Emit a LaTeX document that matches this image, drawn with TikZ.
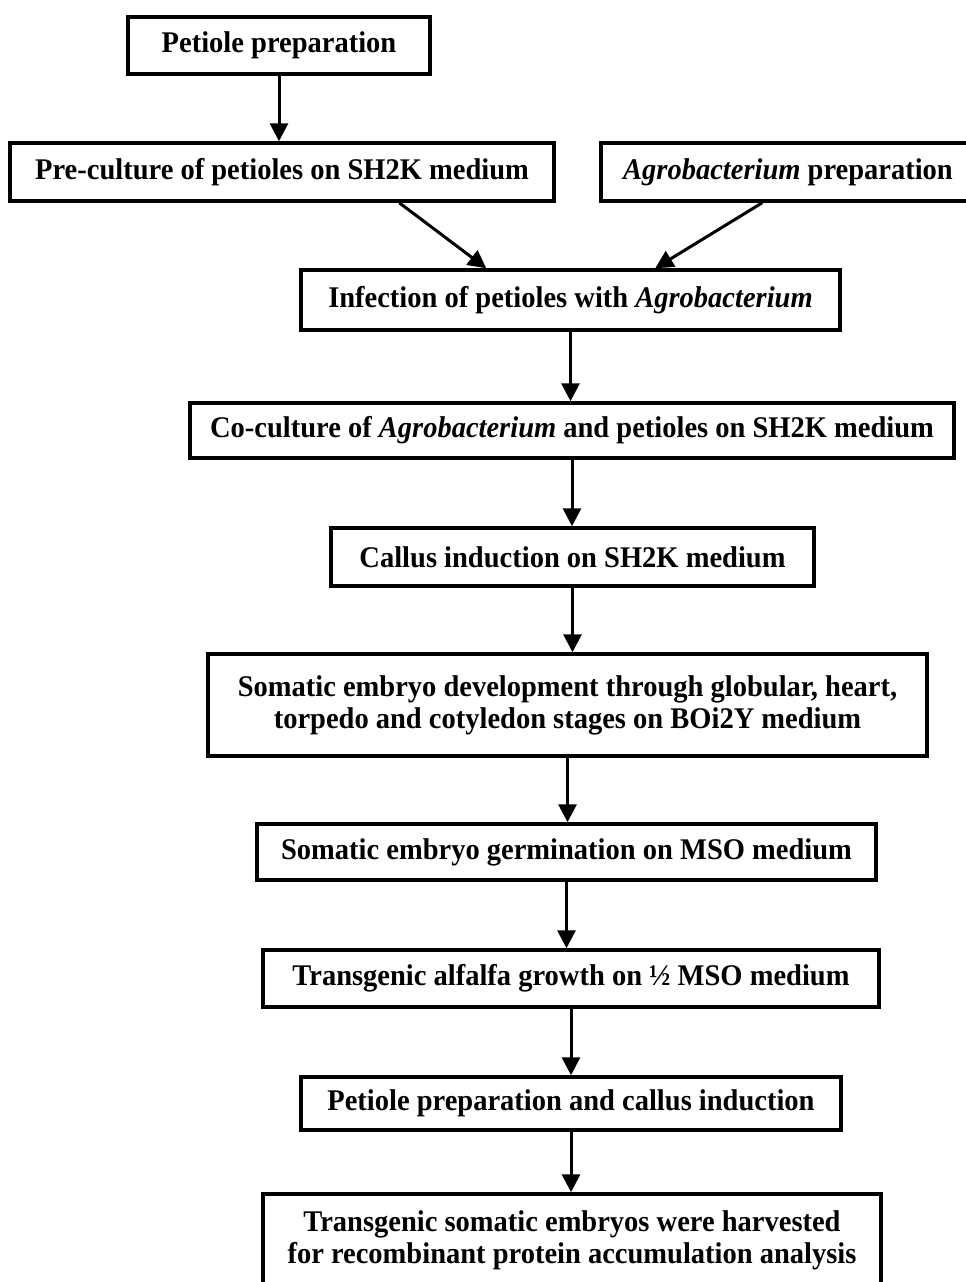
\documentclass[tikz,border=0pt]{standalone}
\usepackage{fontspec}
\setmainfont[FakeStretch=0.95]{Liberation Serif}
\usetikzlibrary{arrows.meta}
\begin{document}
\begin{tikzpicture}[x=1pt,y=-1pt,
  box/.style={draw, line width=3.5pt, rectangle, inner sep=0pt,
    font=\fontsize{30}{32}\selectfont\bfseries, align=center},
  txt/.style={inner sep=0pt, font=\fontsize{30}{32}\selectfont\bfseries, align=center},
  arr/.style={line width=3pt, -{Triangle[width=18pt,length=18pt]}}]
\useasboundingbox[fill=white] (0,0) rectangle (966,1282);
\node[box, minimum width=302pt, minimum height=57pt] (p1) at (279,45.5) {Petiole preparation};
\node[box, minimum width=544pt, minimum height=58pt] (pre) at (282,172) {Pre-culture of petioles on SH2K medium};
\node[box, minimum width=374pt, minimum height=58pt] (agro) at (788,172) {\textit{Agrobacterium} preparation};
\node[box, minimum width=539pt, minimum height=60pt] (inf) at (570.5,300) {Infection of petioles with \textit{Agrobacterium}};
\node[box, minimum width=764pt, minimum height=55pt] (co) at (572,430.5) {Co-culture of \textit{Agrobacterium} and petioles on SH2K medium};
\node[box, minimum width=483pt, minimum height=58pt] (cal) at (572.5,557) {Callus induction on SH2K medium};
\node[box, minimum width=719pt, minimum height=102pt] (som) at (567.5,705) {Somatic embryo development through globular, heart,\\ torpedo and cotyledon stages on BOi2Y medium};
\node[box, minimum width=619pt, minimum height=56pt] (germ) at (566.5,852) {Somatic embryo germination on MSO medium};
\node[box, minimum width=616pt, minimum height=57pt] (alf) at (571,978.5) {Transgenic alfalfa growth on ½ MSO medium};
\node[box, minimum width=540pt, minimum height=53pt] (pcal) at (571,1103.5) {Petiole preparation and callus induction};
\node[box, minimum width=618pt, minimum height=110pt] (fin) at (572,1249) {};
\node[txt] (fint) at (572,1240) {Transgenic somatic embryos were harvested\\ for recombinant protein accumulation analysis};
\draw[arr] (p1.south) -- (p1.south |- pre.north);
\draw[arr] ([xshift=391pt]pre.south west) -- ([xshift=187pt]inf.north west);
\draw[arr] ([xshift=163pt]agro.south west) -- ([xshift=356pt]inf.north west);
\draw[arr] (inf.south) -- (inf.south |- co.north);
\draw[arr] (co.south) -- (co.south |- cal.north);
\draw[arr] (cal.south) -- (cal.south |- som.north);
\draw[arr] (som.south) -- (som.south |- germ.north);
\draw[arr] (germ.south) -- (germ.south |- alf.north);
\draw[arr] (alf.south) -- (alf.south |- pcal.north);
\draw[arr] (pcal.south) -- (pcal.south |- fin.north);
\end{tikzpicture}
\end{document}
